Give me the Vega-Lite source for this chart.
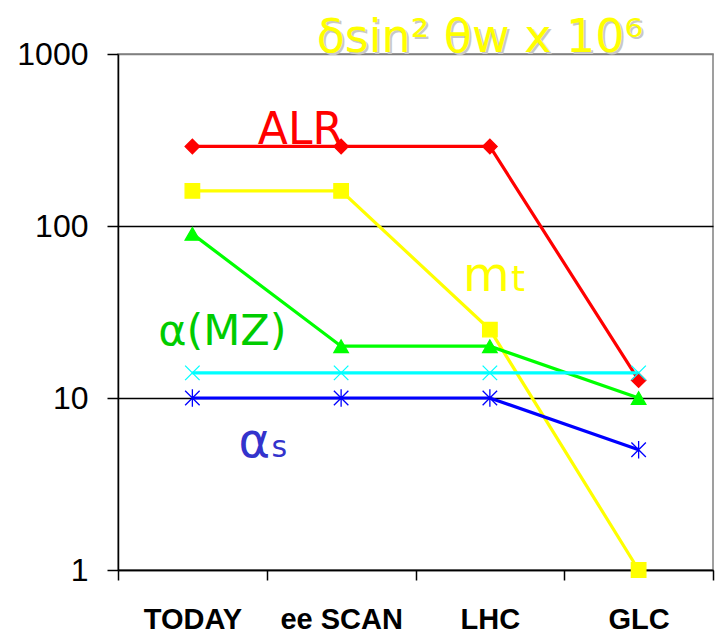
{
  "$schema": "https://vega.github.io/schema/vega-lite/v6.json",
  "width": 595,
  "height": 516,
  "autosize": {"type": "none"},
  "padding": {"left": 118, "top": 54, "right": 6, "bottom": 63},
  "background": "white",
  "config": {
    "view": {"stroke": "#808080", "strokeWidth": 1.5},
    "axis": {"domainColor": "black", "tickColor": "black", "labelColor": "black", "title": null}
  },
  "datasets": {
    "series": [
      {"stage": "TODAY", "series": "ALR", "value": 290},
      {"stage": "ee SCAN", "series": "ALR", "value": 290},
      {"stage": "LHC", "series": "ALR", "value": 290},
      {"stage": "GLC", "series": "ALR", "value": 12.7},
      {"stage": "TODAY", "series": "mt", "value": 160},
      {"stage": "ee SCAN", "series": "mt", "value": 160},
      {"stage": "LHC", "series": "mt", "value": 25},
      {"stage": "GLC", "series": "mt", "value": 1},
      {"stage": "TODAY", "series": "aMZ", "value": 90},
      {"stage": "ee SCAN", "series": "aMZ", "value": 20},
      {"stage": "LHC", "series": "aMZ", "value": 20},
      {"stage": "GLC", "series": "aMZ", "value": 10},
      {"stage": "TODAY", "series": "cyan", "value": 14},
      {"stage": "ee SCAN", "series": "cyan", "value": 14},
      {"stage": "LHC", "series": "cyan", "value": 14},
      {"stage": "GLC", "series": "cyan", "value": 14},
      {"stage": "TODAY", "series": "as", "value": 10},
      {"stage": "ee SCAN", "series": "as", "value": 10},
      {"stage": "LHC", "series": "as", "value": 10},
      {"stage": "GLC", "series": "as", "value": 5}
    ],
    "labels": [
      {"label": "δsin² θw x 10⁶", "kind": "shadow", "stage": "LHC", "value": 1000},
      {"label": "δsin² θw x 10⁶", "kind": "title", "stage": "LHC", "value": 1000},
      {"label": "ALR", "kind": "ALR", "stage": "TODAY", "value": 290},
      {"label": "m", "kind": "m", "stage": "LHC", "value": 42},
      {"label": "t", "kind": "t", "stage": "LHC", "value": 42},
      {"label": "α(MZ)", "kind": "aMZ", "stage": "TODAY", "value": 20.3},
      {"label": "α", "kind": "alpha", "stage": "TODAY", "value": 4.54},
      {"label": "s", "kind": "s", "stage": "TODAY", "value": 4.54}
    ]
  },
  "layer": [
    {
      "data": {"name": "series"},
      "mark": {"type": "line", "strokeJoin": "miter"},
      "encoding": {
        "x": {
          "field": "stage", "type": "nominal",
          "scale": {"type": "band", "domain": ["TODAY", "ee SCAN", "LHC", "GLC"], "paddingInner": 0, "paddingOuter": 0},
          "axis": {
            "labelAngle": 0, "labelFont": "Liberation Sans", "labelFontWeight": "bold", "labelFontSize": 29,
            "labelBaseline": "alphabetic", "labelPadding": 48, "tickSize": 10, "tickBand": "extent",
            "grid": false, "domainWidth": 1.5, "tickWidth": 1.5
          }
        },
        "y": {
          "field": "value", "type": "quantitative",
          "scale": {"type": "log", "domain": [1, 1000]},
          "axis": {
            "values": [1, 10, 100, 1000], "format": "d", "labelFont": "Liberation Sans", "labelFontSize": 32,
            "labelPadding": 19, "tickSize": 11, "labelFlush": false, "labelBaseline": "middle",
            "grid": true, "gridColor": {"condition": {"test": "datum.value === 1000", "value": "#808080"}, "value": "black"},
            "gridWidth": 1.5, "domainWidth": 1.5, "tickWidth": 1.5
          }
        },
        "color": {"field": "series", "type": "nominal", "legend": null,
          "scale": {"domain": ["ALR", "mt", "aMZ", "cyan", "as"], "range": ["#FF0000", "#FFFF00", "#00FF00", "#00FFFF", "#0000FF"]}},
        "strokeWidth": {"field": "series", "type": "nominal", "legend": null,
          "scale": {"domain": ["ALR", "mt", "aMZ", "cyan", "as"], "range": [3.2, 3.2, 3.2, 3.8, 4.8]}},
        "order": {"value": null}
      }
    },
    {
      "data": {"name": "series"},
      "mark": {"type": "point", "filled": true, "opacity": 1, "strokeWidth": 1.3},
      "encoding": {
        "x": {"field": "stage", "type": "nominal"},
        "y": {"field": "value", "type": "quantitative"},
        "color": {"field": "series", "type": "nominal", "legend": null},
        "stroke": {"field": "series", "type": "nominal", "legend": null,
          "scale": {"domain": ["ALR", "mt", "aMZ", "cyan", "as"], "range": ["#FF0000", "#FFFF00", "#00FF00", "#00FFFF", "#0000FF"]}},
        "shape": {"field": "series", "type": "nominal", "legend": null,
          "scale": {"domain": ["ALR", "mt", "aMZ", "cyan", "as"],
            "range": ["diamond", "square", "triangle-up", "M-1,-1L1,1M-1,1L1,-1", "M-1,-1L1,1M-1,1L1,-1M0,-1.2L0,1.2"]}},
        "size": {"value": 210}
      }
    },
    {
      "data": {"name": "labels"},
      "transform": [{"filter": "datum.kind === 'shadow'"}],
      "mark": {"type": "text", "font": "DejaVu Sans", "fontSize": 46, "fill": "#C8C8C8", "align": "center", "baseline": "alphabetic", "dx": -8, "dy": 0},
      "encoding": {"text": {"field": "label"}, "x": {"field": "stage", "type": "nominal"}, "y": {"field": "value", "type": "quantitative"}}
    },
    {
      "data": {"name": "labels"},
      "transform": [{"filter": "datum.kind === 'title'"}],
      "mark": {"type": "text", "font": "DejaVu Sans", "fontSize": 46, "fill": "#FFFF00", "align": "center", "baseline": "alphabetic", "dx": -10, "dy": -2},
      "encoding": {"text": {"field": "label"}, "x": {"field": "stage", "type": "nominal"}, "y": {"field": "value", "type": "quantitative"}}
    },
    {
      "data": {"name": "labels"},
      "transform": [{"filter": "datum.kind === 'ALR'"}],
      "mark": {"type": "text", "font": "DejaVu Sans", "fontSize": 44, "fill": "#FF0000", "align": "center", "baseline": "alphabetic", "dx": 108, "dy": -2},
      "encoding": {"text": {"field": "label"}, "x": {"field": "stage", "type": "nominal"}, "y": {"field": "value", "type": "quantitative"}}
    },
    {
      "data": {"name": "labels"},
      "transform": [{"filter": "datum.kind === 'm'"}],
      "mark": {"type": "text", "font": "DejaVu Sans", "fontSize": 48, "fill": "#FFFF00", "align": "left", "baseline": "alphabetic", "dx": -27},
      "encoding": {"text": {"field": "label"}, "x": {"field": "stage", "type": "nominal"}, "y": {"field": "value", "type": "quantitative"}}
    },
    {
      "data": {"name": "labels"},
      "transform": [{"filter": "datum.kind === 't'"}],
      "mark": {"type": "text", "font": "DejaVu Sans", "fontSize": 36, "fill": "#FFFF00", "align": "left", "baseline": "alphabetic", "dx": 21},
      "encoding": {"text": {"field": "label"}, "x": {"field": "stage", "type": "nominal"}, "y": {"field": "value", "type": "quantitative"}}
    },
    {
      "data": {"name": "labels"},
      "transform": [{"filter": "datum.kind === 'aMZ'"}],
      "mark": {"type": "text", "font": "DejaVu Sans", "fontSize": 43, "fill": "#00CC00", "align": "center", "baseline": "alphabetic", "dx": 30},
      "encoding": {"text": {"field": "label"}, "x": {"field": "stage", "type": "nominal"}, "y": {"field": "value", "type": "quantitative"}}
    },
    {
      "data": {"name": "labels"},
      "transform": [{"filter": "datum.kind === 'alpha'"}],
      "mark": {"type": "text", "font": "DejaVu Sans", "fontSize": 48, "fill": "#3333CC", "align": "left", "baseline": "alphabetic", "dx": 46},
      "encoding": {"text": {"field": "label"}, "x": {"field": "stage", "type": "nominal"}, "y": {"field": "value", "type": "quantitative"}}
    },
    {
      "data": {"name": "labels"},
      "transform": [{"filter": "datum.kind === 's'"}],
      "mark": {"type": "text", "font": "DejaVu Sans", "fontSize": 30, "fill": "#3333CC", "align": "left", "baseline": "alphabetic", "dx": 79},
      "encoding": {"text": {"field": "label"}, "x": {"field": "stage", "type": "nominal"}, "y": {"field": "value", "type": "quantitative"}}
    }
  ]
}
